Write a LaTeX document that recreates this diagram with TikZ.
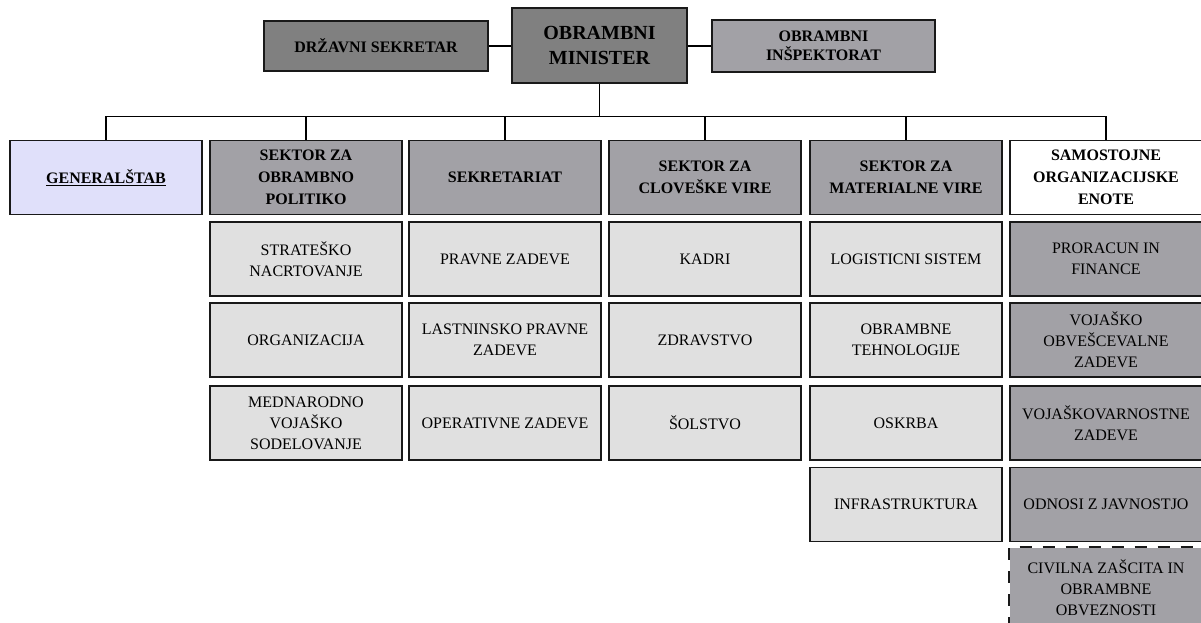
\documentclass[tikz,border=0pt]{standalone}
\usepackage{fontspec}
\setmainfont{Liberation Serif}
\definecolor{darkbox}{HTML}{808080}
\definecolor{midbox}{HTML}{A2A1A6}
\definecolor{lightbox}{HTML}{E0E0E0}
\definecolor{staffbox}{HTML}{E0E0FA}
\begin{document}
\begin{tikzpicture}[x=1pt,y=-1pt,
  box/.style={draw=black!90, line width=1.6pt, rectangle, inner sep=0pt, align=center,
    font=\fontsize{16}{21}\selectfont},
  topbox/.style={box, font=\bfseries\fontsize{16}{19}\selectfont},
  head/.style={box, minimum width=192pt, minimum height=74pt,
    font=\bfseries\fontsize{16}{22}\selectfont},
  sub/.style={box, minimum width=192pt, minimum height=74pt, fill=lightbox},
  unit/.style={sub, fill=midbox},
  link/.style={line width=1.3pt, draw=black},
  dashline/.style={line width=1.6pt, draw=black!90, dash pattern=on 12pt off 11pt},
]
\useasboundingbox (0,0) rectangle (1201,623);
\clip (0,0) rectangle (1201,623);

% top level
\node[topbox, fill=darkbox, minimum width=224pt, minimum height=50pt] (drz) at (376,46) {DRŽAVNI SEKRETAR};
\node[box, fill=darkbox, minimum width=175pt, minimum height=75pt,
  font=\bfseries\fontsize{20}{25}\selectfont] (min) at (599.5,45.5) {OBRAMBNI\\MINISTER};
\node[topbox, fill=midbox, minimum width=223pt, minimum height=52pt] (insp) at (823.5,46) {OBRAMBNI\\INŠPEKTORAT};

\draw[link] (drz.east) -- (drz.east -| min.west);
\draw[link] (insp.west) -- (insp.west -| min.east);

% sector heads
\node[head, fill=staffbox] (gs) at (106,177.5) {\underline{GENERALŠTAB}};
\node[head, fill=midbox] (pol) at (306,177.5) {SEKTOR ZA\\OBRAMBNO\\POLITIKO};
\node[head, fill=midbox] (sek) at (505,177.5) {SEKRETARIAT};
\node[head, fill=midbox] (clo) at (705,177.5) {SEKTOR ZA\\CLOVEŠKE VIRE};
\node[head, fill=midbox] (mat) at (906,177.5) {SEKTOR ZA\\MATERIALNE VIRE};
\node[head, fill=white] (sam) at (1106,177.5) {SAMOSTOJNE\\ORGANIZACIJSKE\\ENOTE};

% tree connectors
\draw[link] (min.south) -- ++(0,33) coordinate (hub);
\foreach \n in {gs,pol,sek,clo,mat,sam}
  \draw[link] (\n.north) |- (hub);

% sector for defence policy
\node[sub] (p1) at (306,259) {STRATEŠKO\\NACRTOVANJE};
\node[sub] (p2) at (306,340) {ORGANIZACIJA};
\node[sub] (p3) at (306,423) {MEDNARODNO\\VOJAŠKO\\SODELOVANJE};

% secretariat
\node[sub] (s1) at (505,259) {PRAVNE ZADEVE};
\node[sub] (s2) at (505,340) {LASTNINSKO PRAVNE\\ZADEVE};
\node[sub] (s3) at (505,423) {OPERATIVNE ZADEVE};

% human resources
\node[sub] (c1) at (705,259) {KADRI};
\node[sub] (c2) at (705,340) {ZDRAVSTVO};
\node[sub] (c3) at (705,423) {ŠOLSTVO};

% material resources
\node[sub] (m1) at (906,259) {LOGISTICNI SISTEM};
\node[sub] (m2) at (906,340) {OBRAMBNE\\TEHNOLOGIJE};
\node[sub] (m3) at (906,423) {OSKRBA};
\node[sub] (m4) at (906,504.5) {INFRASTRUKTURA};

% independent units
\node[unit] (u1) at (1106,259) {PRORACUN IN\\FINANCE};
\node[unit] (u2) at (1106,340) {VOJAŠKO\\OBVEŠCEVALNE\\ZADEVE};
\node[unit] (u3) at (1106,423) {VOJAŠKOVARNOSTNE\\ZADEVE};
\node[unit] (u4) at (1106,504.5) {ODNOSI Z JAVNOSTJO};
\node[unit, draw=none, minimum height=80pt] (u5) at (1106,588) {CIVILNA ZAŠCITA IN\\OBRAMBNE\\OBVEZNOSTI};
\draw[dashline] (u5.south west) -- (u5.north west) -- (u5.north east);
\end{tikzpicture}
\end{document}
